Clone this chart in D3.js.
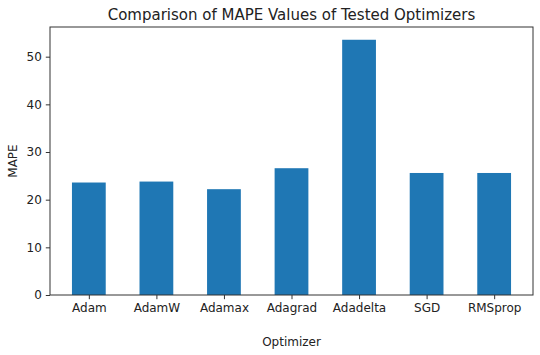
<!DOCTYPE html>
<html><head><meta charset="utf-8">
<script src="https://cdn.jsdelivr.net/npm/d3@7"></script>
<style>body{margin:0;background:#fff}svg{display:block}text{font-family:"DejaVu Sans",sans-serif;fill:#222}</style>
</head><body>
<script>
const categories = ["Adam","AdamW","Adamax","Adagrad","Adadelta","SGD","RMSprop"];
const mapeValues = [23.6,23.8,22.2,26.6,53.55,25.6,25.6];
const yTicks = [0,10,20,30,40,50];
const titleText = "Comparison of MAPE Values of Tested Optimizers";
const xLabel = "Optimizer";
const yLabel = "MAPE";

const W=540,H=355;
const m={left:50,right:7,top:27,bottom:60};
const svg=d3.select("body").append("svg").attr("width",W).attr("height",H);
const iw=W-m.left-m.right, ih=H-m.top-m.bottom;
const n=categories.length;
const x=d3.scaleLinear().domain([-0.575,n-1+0.575]).range([m.left,m.left+iw]);
const ymax=d3.max(mapeValues)*1.05;
const y=d3.scaleLinear().domain([0,ymax]).range([m.top+ih,m.top]);

svg.selectAll("rect.bar").data(mapeValues).enter().append("rect")
  .attr("class","bar")
  .attr("x",(d,i)=>x(i-0.25)).attr("width",(d,i)=>x(i+0.25)-x(i-0.25))
  .attr("y",d=>y(d)).attr("height",d=>y(0)-y(d))
  .attr("fill","#1f77b4");

const xAxis=d3.axisBottom(x).tickValues(d3.range(n)).tickFormat(i=>categories[i]).tickSize(4.2).tickPadding(4);
const gx=svg.append("g").attr("transform",`translate(0,${m.top+ih})`).call(xAxis);
const yAxis=d3.axisLeft(y).tickValues(yTicks).tickSize(4.2).tickPadding(4);
const gy=svg.append("g").attr("transform",`translate(${m.left},0)`).call(yAxis);
[gx,gy].forEach(g=>{g.select(".domain").remove();g.selectAll("line").attr("stroke","#333").attr("stroke-width",1);
 g.selectAll("text").attr("font-size",12).attr("font-family","DejaVu Sans").attr("fill","#222");});

svg.append("rect").attr("x",m.left).attr("y",m.top).attr("width",iw).attr("height",ih)
  .attr("fill","none").attr("stroke","#333").attr("stroke-width",1);

svg.append("text").attr("x",m.left+iw/2).attr("y",20).attr("text-anchor","middle").attr("font-size",15).text(titleText);
svg.append("text").attr("x",m.left+iw/2).attr("y",346).attr("text-anchor","middle").attr("font-size",12).text(xLabel);
svg.append("text").attr("transform",`translate(17,${m.top+ih/2}) rotate(-90)`).attr("text-anchor","middle").attr("font-size",12).text(yLabel);
</script>
</body></html>
